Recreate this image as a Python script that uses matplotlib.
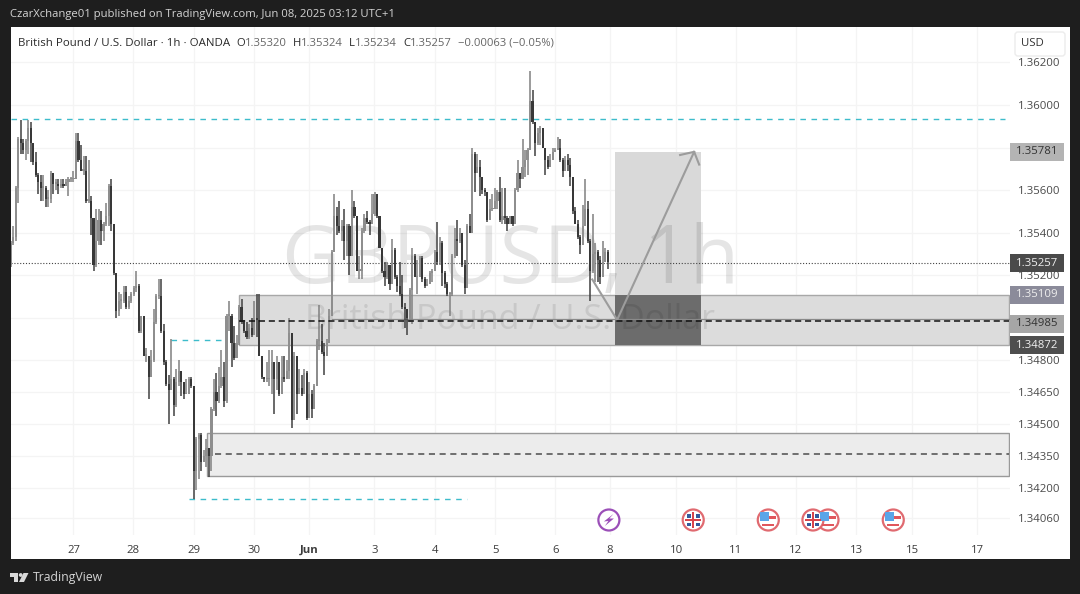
"""GBP/USD 1h TradingView snapshot with zones and a long position drawing."""

import matplotlib

matplotlib.use("Agg")

import matplotlib.pyplot as plt
import numpy as np
from matplotlib.patches import Circle, FancyBboxPatch, Polygon, Rectangle

first_open = 1.3525
closes = [
    1.3535, 1.3538, 1.3561, 1.3584, 1.3582, 1.3579, 1.3583, 1.3589, 1.3582, 1.3573,
    1.3567, 1.3564, 1.3561, 1.3561, 1.3556, 1.3556, 1.3568, 1.3563, 1.3563, 1.3562,
    1.3563, 1.3562, 1.3564, 1.3565, 1.3565, 1.3565, 1.3583, 1.3574, 1.3569, 1.3569,
    1.3555, 1.3555, 1.3547, 1.3525, 1.3536, 1.3546, 1.3541, 1.3544, 1.3548, 1.3562,
    1.3544, 1.3521, 1.3503, 1.3508, 1.3508, 1.3512, 1.3505, 1.3508, 1.3511, 1.3514,
    1.3515, 1.3494, 1.3501, 1.3482, 1.3482, 1.3472, 1.3480, 1.3498, 1.3510, 1.3510,
    1.3494, 1.3479, 1.3469, 1.3466, 1.3471, 1.3459, 1.3470, 1.3475, 1.3470, 1.3464,
    1.3464, 1.3471, 1.3468, 1.3428, 1.3443, 1.3445, 1.3432, 1.3435, 1.3439, 1.3435,
    1.3457, 1.3465, 1.3461, 1.3468, 1.3472, 1.3461, 1.3501, 1.3501, 1.3488, 1.3481,
    1.3488, 1.3505, 1.3498, 1.3494, 1.3491, 1.3495, 1.3492, 1.3500, 1.3499, 1.3482,
    1.3472, 1.3471, 1.3471, 1.3471, 1.3479, 1.3471, 1.3479, 1.3464, 1.3472, 1.3471,
    1.3475, 1.3493, 1.3452, 1.3482, 1.3464, 1.3467, 1.3464, 1.3474, 1.3453, 1.3464,
    1.3457, 1.3468, 1.3489, 1.3489, 1.3484, 1.3482, 1.3488, 1.3501, 1.3531, 1.3548,
    1.3543, 1.3541, 1.3543, 1.3536, 1.3543, 1.3529, 1.3552, 1.3548, 1.3522, 1.3522,
    1.3541, 1.3547, 1.3545, 1.3544, 1.3549, 1.3558, 1.3548, 1.3533, 1.3522, 1.3519,
    1.3525, 1.3516, 1.3532, 1.3519, 1.3515, 1.3511, 1.3505, 1.3504, 1.3500, 1.3513,
    1.3529, 1.3519, 1.3519, 1.3528, 1.3518, 1.3515, 1.3516, 1.3521, 1.3522, 1.3531,
    1.3526, 1.3535, 1.3521, 1.3516, 1.3511, 1.3511, 1.3529, 1.3537, 1.3536, 1.3540,
    1.3525, 1.3514, 1.3543, 1.3540, 1.3577, 1.3568, 1.3571, 1.3566, 1.3560, 1.3559,
    1.3546, 1.3551, 1.3551, 1.3555, 1.3559, 1.3546, 1.3548, 1.3547, 1.3544, 1.3548,
    1.3544, 1.3560, 1.3568, 1.3565, 1.3571, 1.3574, 1.3579, 1.3602, 1.3592, 1.3582,
    1.3587, 1.3589, 1.3580, 1.3574, 1.3571, 1.3574, 1.3578, 1.3579, 1.3580, 1.3574,
    1.3569, 1.3574, 1.3572, 1.3566, 1.3550, 1.3544, 1.3538, 1.3534, 1.3543, 1.3551,
    1.3536, 1.3522, 1.3530, 1.3531, 1.3527, 1.3519, 1.3526, 1.3531, 1.3526,
]
highs = [
    1.3536, 1.3543, 1.3562, 1.3585, 1.3593, 1.3584, 1.3584, 1.3593, 1.3592, 1.3582,
    1.3578, 1.3568, 1.3567, 1.3567, 1.3562, 1.3560, 1.3569, 1.3568, 1.3565, 1.3565,
    1.3565, 1.3565, 1.3565, 1.3566, 1.3566, 1.3569, 1.3587, 1.3587, 1.3581, 1.3576,
    1.3576, 1.3574, 1.3557, 1.3547, 1.3551, 1.3551, 1.3550, 1.3545, 1.3554, 1.3563,
    1.3565, 1.3544, 1.3521, 1.3512, 1.3511, 1.3515, 1.3515, 1.3510, 1.3512, 1.3515,
    1.3522, 1.3516, 1.3501, 1.3501, 1.3486, 1.3482, 1.3485, 1.3504, 1.3511, 1.3518,
    1.3518, 1.3497, 1.3480, 1.3473, 1.3490, 1.3472, 1.3476, 1.3480, 1.3475, 1.3470,
    1.3471, 1.3472, 1.3472, 1.3468, 1.3444, 1.3446, 1.3446, 1.3438, 1.3443, 1.3439,
    1.3458, 1.3471, 1.3474, 1.3477, 1.3485, 1.3479, 1.3502, 1.3508, 1.3502, 1.3496,
    1.3492, 1.3506, 1.3509, 1.3499, 1.3498, 1.3497, 1.3500, 1.3508, 1.3511, 1.3511,
    1.3482, 1.3472, 1.3479, 1.3485, 1.3485, 1.3479, 1.3482, 1.3472, 1.3482, 1.3482,
    1.3480, 1.3500, 1.3493, 1.3484, 1.3482, 1.3476, 1.3473, 1.3476, 1.3475, 1.3470,
    1.3466, 1.3469, 1.3490, 1.3506, 1.3497, 1.3488, 1.3490, 1.3504, 1.3532, 1.3558,
    1.3552, 1.3555, 1.3546, 1.3551, 1.3544, 1.3544, 1.3560, 1.3555, 1.3548, 1.3529,
    1.3542, 1.3549, 1.3550, 1.3546, 1.3558, 1.3559, 1.3558, 1.3548, 1.3533, 1.3526,
    1.3526, 1.3525, 1.3537, 1.3533, 1.3520, 1.3526, 1.3520, 1.3507, 1.3504, 1.3514,
    1.3533, 1.3530, 1.3527, 1.3529, 1.3529, 1.3519, 1.3518, 1.3522, 1.3523, 1.3532,
    1.3545, 1.3538, 1.3536, 1.3522, 1.3517, 1.3512, 1.3530, 1.3542, 1.3546, 1.3542,
    1.3537, 1.3527, 1.3544, 1.3549, 1.3580, 1.3578, 1.3577, 1.3574, 1.3566, 1.3561,
    1.3558, 1.3556, 1.3558, 1.3561, 1.3560, 1.3566, 1.3561, 1.3561, 1.3548, 1.3548,
    1.3548, 1.3561, 1.3574, 1.3568, 1.3584, 1.3579, 1.3580, 1.3616, 1.3607, 1.3592,
    1.3589, 1.3590, 1.3589, 1.3580, 1.3576, 1.3577, 1.3580, 1.3580, 1.3585, 1.3584,
    1.3575, 1.3576, 1.3577, 1.3575, 1.3566, 1.3552, 1.3546, 1.3539, 1.3553, 1.3565,
    1.3555, 1.3537, 1.3549, 1.3535, 1.3532, 1.3529, 1.3536, 1.3533, 1.3532,
]
lows = [
    1.3524, 1.3534, 1.3536, 1.3554, 1.3577, 1.3577, 1.3574, 1.3577, 1.3573, 1.3572,
    1.3566, 1.3558, 1.3555, 1.3555, 1.3552, 1.3552, 1.3554, 1.3558, 1.3560, 1.3558,
    1.3561, 1.3561, 1.3562, 1.3557, 1.3564, 1.3564, 1.3565, 1.3573, 1.3569, 1.3567,
    1.3554, 1.3554, 1.3539, 1.3522, 1.3524, 1.3534, 1.3534, 1.3536, 1.3543, 1.3543,
    1.3541, 1.3520, 1.3500, 1.3501, 1.3504, 1.3507, 1.3504, 1.3504, 1.3507, 1.3510,
    1.3512, 1.3493, 1.3493, 1.3482, 1.3479, 1.3462, 1.3472, 1.3479, 1.3497, 1.3509,
    1.3493, 1.3478, 1.3468, 1.3450, 1.3466, 1.3454, 1.3458, 1.3468, 1.3463, 1.3462,
    1.3464, 1.3464, 1.3467, 1.3415, 1.3419, 1.3424, 1.3428, 1.3432, 1.3430, 1.3425,
    1.3428, 1.3456, 1.3454, 1.3460, 1.3467, 1.3458, 1.3460, 1.3494, 1.3477, 1.3480,
    1.3487, 1.3487, 1.3497, 1.3493, 1.3490, 1.3490, 1.3491, 1.3494, 1.3491, 1.3482,
    1.3471, 1.3470, 1.3470, 1.3468, 1.3464, 1.3455, 1.3466, 1.3463, 1.3466, 1.3470,
    1.3471, 1.3471, 1.3448, 1.3452, 1.3455, 1.3464, 1.3463, 1.3464, 1.3452, 1.3453,
    1.3453, 1.3457, 1.3468, 1.3485, 1.3483, 1.3473, 1.3482, 1.3488, 1.3501, 1.3532,
    1.3539, 1.3540, 1.3536, 1.3527, 1.3529, 1.3520, 1.3529, 1.3547, 1.3522, 1.3518,
    1.3518, 1.3540, 1.3544, 1.3539, 1.3544, 1.3548, 1.3547, 1.3533, 1.3521, 1.3515,
    1.3518, 1.3513, 1.3516, 1.3518, 1.3512, 1.3510, 1.3504, 1.3495, 1.3492, 1.3498,
    1.3497, 1.3519, 1.3511, 1.3519, 1.3517, 1.3514, 1.3515, 1.3516, 1.3517, 1.3522,
    1.3525, 1.3525, 1.3515, 1.3514, 1.3510, 1.3501, 1.3510, 1.3528, 1.3529, 1.3535,
    1.3524, 1.3511, 1.3514, 1.3540, 1.3540, 1.3559, 1.3568, 1.3557, 1.3558, 1.3557,
    1.3545, 1.3546, 1.3550, 1.3551, 1.3551, 1.3545, 1.3544, 1.3544, 1.3541, 1.3544,
    1.3543, 1.3547, 1.3559, 1.3561, 1.3565, 1.3566, 1.3567, 1.3579, 1.3591, 1.3576,
    1.3581, 1.3581, 1.3580, 1.3567, 1.3570, 1.3573, 1.3574, 1.3578, 1.3579, 1.3573,
    1.3566, 1.3569, 1.3569, 1.3562, 1.3549, 1.3544, 1.3537, 1.3530, 1.3534, 1.3543,
    1.3535, 1.3508, 1.3521, 1.3517, 1.3517, 1.3516, 1.3524, 1.3526, 1.3523,
]

time_ticks = [25, 48.9, 73, 97.1, 119, 144.9, 169.2, 193.1, 217, 238.9, 265.2, 289.1, 313, 337, 359.3, 385.2]
time_labels = ["27", "28", "29", "30", "Jun", "3", "4", "5", "6", "8", "10", "11", "12", "13", "15", "17"]
price_ticks = [1.362, 1.360, 1.358, 1.356, 1.354, 1.352, 1.350, 1.348, 1.3465, 1.345, 1.3435, 1.342, 1.3406]
price_labels = ["1.36200", "1.36000", "", "1.35600", "1.35400", "1.35200", "", "1.34800", "1.34650", "1.34500", "1.34350", "1.34200", "1.34060"]

# bar_start, price_low, price_high, fill, edge
zone_upper = (91.1, 1.34872, 1.35109, "#dcdcdc", "#a8a8a8")
zone_lower = (78.4, 1.34256, 1.34458, "#ececec", "#9a9a9a")
position_left, position_right = 241.0, 275.2
position_target, position_entry, position_stop = 1.35781, 1.35109, 1.34872

arrow_bars = [231.8, 241.7, 272.4]
arrow_prices = [1.3518, 1.3499, 1.3578]
arrow_head_bars = [266.8, 272.4, 274.4]
arrow_head_prices = [1.35765, 1.3578, 1.3572]

tag_prices = [1.35781, 1.35257, 1.35109, 1.34985, 1.34872]
tag_centers = [1.35781, 1.35257, 1.35109, 1.34972, 1.34872]
tag_fills = ["#b4b4b4", "#4a4a4a", "#8b8b9a", "#a6a6a6", "#4e4e4e"]
tag_texts = ["#333333", "#f0f0f0", "#eeeeee", "#333333", "#f0f0f0"]

event_bars = [238.5, 272.1, 302, 325.8, 319.8, 351.8]
event_kinds = ["bolt", "uk", "us", "us", "uk", "us"]

W, H = 1080, 594
BG = "#1e1e1e"
FONT = "Open Sans"
plt.rcParams["font.family"] = FONT

fig = plt.figure(figsize=(W / 100, H / 100), dpi=100, facecolor=BG)
fig.add_artist(Rectangle((10.5 / W, 1 - 559 / H), 1059 / W, 532 / H, transform=fig.transFigure, fc="white", ec="none", zorder=-5))

ax = fig.add_axes([10.5 / W, 1 - 535 / H, 999.5 / W, 508 / H], facecolor="none")
ax.set_xlim(-0.1, 398.3)
ax.set_ylim(1.36 - 430 * 0.000047, 1.36 + 78 * 0.000047)
for s in ax.spines.values():
    s.set_visible(False)
ax.set_axisbelow(True)
ax.grid(color="#f4f4f4", linewidth=0.9)

ax.set_xticks(time_ticks, time_labels)
ax.set_yticks(price_ticks, price_labels)
ax.yaxis.tick_right()
ax.tick_params(axis="x", length=0, pad=7, labelsize=8.2, labelcolor="#3c3c3c")
ax.tick_params(axis="y", length=0, pad=5.5, labelsize=8.2, labelcolor="#4a4a4a")
ax.get_xticklabels()[4].set_fontweight("bold")

# zones, position tool
for start, lo, hi, fill, edge in (zone_upper, zone_lower):
    ax.add_patch(Rectangle((start, lo), 398.3 - start - 0.5, hi - lo, fc=fill, ec=edge, lw=1, zorder=1))
ax.add_patch(Rectangle((position_left, position_entry), position_right - position_left, position_target - position_entry, fc="#d9d9d9", ec="none", zorder=1.2))
ax.add_patch(Rectangle((position_left, position_stop), position_right - position_left, position_entry - position_stop, fc="#6c6c6c", ec="none", zorder=1.2))

# watermark
ax.text(0.5, 0.538, "GBPUSD, 1h", transform=ax.transAxes, fontsize=58, color="black", alpha=0.1, ha="center", va="center", zorder=1.5)
ax.text(0.5, 0.424, "British Pound / U.S. Dollar", transform=ax.transAxes, fontsize=24.5, color="black", alpha=0.09, ha="center", va="center", zorder=1.5)

# level lines
ax.plot([-0.1, 396.5], [1.35934, 1.35934], color="#3dbccb", lw=1, dashes=(4, 4), zorder=1.6)
ax.plot([64, 85.5], [1.34896, 1.34896], color="#3dbccb", lw=1, dashes=(4, 4), zorder=1.6)
ax.plot([71, 182], [1.3415, 1.3415], color="#3dbccb", lw=1, dashes=(4, 4), zorder=1.6)
ax.plot([-0.1, 398.3], [1.35257, 1.35257], color="#444444", lw=0.8, dashes=(1, 1.6), zorder=1.6)
ax.plot([91.1, 397.8], [1.34985, 1.34985], color="#111111", lw=1.1, dashes=(4, 2.5), zorder=3.2)
ax.plot([128, 397.8], [1.34995, 1.34995], color="#8a8a8a", lw=0.9, zorder=1.6)
ax.plot([81.6, 397.8], [1.3436, 1.3436], color="#4c4c4c", lw=1.1, dashes=(4, 3), zorder=1.6)

# candles
bars = np.arange(len(closes))
c = np.array(closes)
o = np.r_[first_open, c[:-1]]
h = np.array(highs)
l = np.array(lows)
up = c >= o
bar_color = np.where(up, "#8e8e8e", "#383838")
ax.vlines(bars, l, h, colors=np.where(up, "#808080", "#404040"), lw=1.1, zorder=2)
ax.bar(bars, np.maximum(np.abs(c - o), 0.00008), width=0.86, bottom=np.minimum(o, c), color=bar_color, zorder=2.2)

# long arrow
ax.plot(arrow_bars, arrow_prices, color="#9c9c9c", lw=1.5, zorder=3, solid_joinstyle="miter")
ax.plot(arrow_head_bars, arrow_head_prices, color="#9c9c9c", lw=1.5, zorder=3)

# price tags
ytrans = ax.get_yaxis_transform()
half_tag = 9 * 0.000047
for price, center, fill, tc in zip(tag_prices, tag_centers, tag_fills, tag_texts):
    ax.add_patch(Rectangle((0.9995, center - half_tag), 0.055, 2 * half_tag, transform=ytrans, fc=fill, ec="none", zorder=8, clip_on=False))
    ax.text(1.0275, center, f"{price:.5f}", transform=ytrans, ha="center", va="center", fontsize=8.2, color=tc, zorder=9, clip_on=False)

# overlay in pixels for the app chrome
chrome = fig.add_axes([0, 0, 1, 1], facecolor="none", zorder=5)
chrome.set_xlim(0, W)
chrome.set_ylim(H, 0)
chrome.axis("off")

chrome.text(10, 15, "CzarXchange01 published on TradingView.com, Jun 08, 2025 03:12 UTC+1", color="#d4d4d4", fontsize=8.1, va="center")
chrome.text(18, 43, "British Pound / U.S. Dollar · 1h · OANDA", color="#2a2a2a", fontsize=8.25, va="center")
ohlc_x = [236, 293, 349, 403]
ohlc_lab = ["O", "H", "L", "C"]
ohlc_val = ["1.35320", "1.35324", "1.35234", "1.35257"]
for x0, a, b in zip(ohlc_x, ohlc_lab, ohlc_val):
    t = chrome.text(x0, 43, a, color="#2a2a2a", fontsize=8.1, va="center")
    chrome.annotate(b, xy=(1, 0.5), xycoords=t, va="center", color="#666666", fontsize=8.1)
chrome.text(458, 43, "−0.00063 (−0.05%)", color="#666666", fontsize=8.1, va="center")

chrome.add_patch(FancyBboxPatch((1015, 32), 50, 24, boxstyle="round,pad=0,rounding_size=3", fc="white", ec="#ececec", lw=1, zorder=3))
chrome.text(1032.5, 44, "USD", color="#333333", fontsize=8.2, ha="center", va="center", zorder=4)


def flag(cx, cy, kind):
    """Small economic-calendar badge."""
    chrome.add_patch(Circle((cx, cy), 10.5, fc="white", ec="#e06a70", lw=1.6, zorder=3))
    if kind == "bolt":
        chrome.patches[-1].set_edgecolor("#9b4fb8")
        chrome.add_patch(Polygon([(cx + 4.5, cy - 6), (cx - 5, cy + 1.5), (cx - 0.5, cy + 1), (cx - 4, cy + 6), (cx + 5, cy - 1.5), (cx + 0.5, cy - 1.5)], fc="#9b4fb8", ec="none", zorder=4))
    elif kind == "us":
        chrome.add_patch(Rectangle((cx - 8, cy - 8), 8.5, 9, fc="#5aa5e8", ec="none", zorder=4))
        chrome.add_patch(Rectangle((cx + 0.5, cy - 4), 7.5, 3, fc="#e0565c", ec="none", zorder=4))
        chrome.add_patch(Rectangle((cx - 6, cy + 3.5), 12, 2.2, fc="#e0565c", ec="none", zorder=4))
    else:
        for dx, dy in ((-6, -6), (2.5, -6), (-6, 2.5), (2.5, 2.5)):
            chrome.add_patch(Rectangle((cx + dx, cy + dy), 3.8, 3.8, fc="#35599c", ec="none", zorder=4))
        chrome.add_patch(Rectangle((cx - 8, cy - 0.9), 16, 1.8, fc="#d9434b", ec="none", zorder=4))
        chrome.add_patch(Rectangle((cx - 0.9, cy - 8), 1.8, 16, fc="#d9434b", ec="none", zorder=4))


for bar, kind in zip(event_bars, event_kinds):
    px = 10.25 + 2.51 * bar
    flag(px, 520, kind)

# TradingView logo
logo = "#d9d9d9"
chrome.add_patch(Rectangle((10, 573), 8, 3.6, fc=logo, ec="none"))
chrome.add_patch(Rectangle((14, 573), 4, 9, fc=logo, ec="none"))
chrome.add_patch(Circle((20.7, 575), 1.9, fc=logo, ec="none"))
chrome.add_patch(Polygon([(19, 582), (23.5, 573), (28.5, 573), (24, 582)], fc=logo, ec="none"))
chrome.text(33, 577.5, "TradingView", color="#d4d4d4", fontsize=8.8, va="center")

fig.savefig("out.png", dpi=100, facecolor=BG)
